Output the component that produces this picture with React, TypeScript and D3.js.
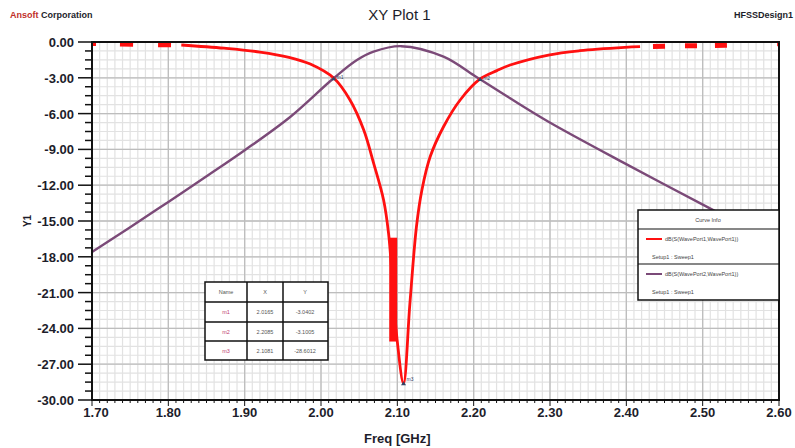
import React from "react";
import * as d3 from "d3";

// ---- data ----
const xTicks = [1.7, 1.8, 1.9, 2.0, 2.1, 2.2, 2.3, 2.4, 2.5, 2.6];
const yTicks = [0, -3, -6, -9, -12, -15, -18, -21, -24, -27, -30];

// S11 (red) continuous part
const s11Freq = [1.817, 1.873, 1.92, 1.958, 1.986, 2.017, 2.038, 2.056, 2.069, 2.082, 2.0885, 2.0998, 2.1081, 2.1164, 2.125, 2.1322, 2.1431, 2.1605, 2.1823, 2.2085, 2.2304, 2.2478, 2.298, 2.339, 2.398, 2.418];
const s11dB = [-0.25, -0.52, -0.84, -1.28, -1.85, -3.04, -4.86, -7.38, -10.17, -13.24, -16.04, -25.0, -28.6, -21.96, -15.5, -12.4, -9.6, -7.1, -4.86, -3.1, -2.4, -1.93, -1.09, -0.73, -0.45, -0.39];
// S11 near-0 tails drawn in the chunky dashed style
const s11LeftFreq = [1.7, 1.76, 1.817];
const s11LeftdB = [-0.12, -0.2, -0.25];
const s11RightFreq = [2.418, 2.47, 2.53, 2.6];
const s11RightdB = [-0.39, -0.33, -0.27, -0.15];
// dense ringing band on the S11 left flank
const ringFreq = [2.0894, 2.0998];
const ringdB = [-16.4, -25.1];

// S21 (purple)
const s21Freq = [1.7, 1.748, 1.8, 1.8525, 1.9005, 1.96, 2.0165, 2.0471, 2.0689, 2.105, 2.1605, 2.1997, 2.2085, 2.2478, 2.298, 2.398, 2.5095, 2.6];
const s21dB = [-17.6, -15.6, -13.4, -11.15, -9.05, -6.26, -3.04, -1.51, -0.81, -0.35, -1.23, -2.77, -3.13, -4.72, -6.68, -10.17, -13.94, -17.0];

// markers
const markerNames = ["m1", "m2", "m3"];
const markerFreq = [2.0165, 2.2085, 2.1081];
const markerdB = [-3.04, -3.1, -28.6];
const markerX = ["2.0165", "2.2085", "2.1081"];
const markerY = ["-3.0402", "-3.1005", "-28.6012"];

const legendNames = ["dB(S(WavePort1,WavePort1))", "dB(S(WavePort2,WavePort1))"];
const legendSub = ["Setup1 : Sweep1", "Setup1 : Sweep1"];

const RED = "#ff1010";
const PURPLE = "#7b4a78";
const TXT = "#1d1d2b";
const FONT = "'Liberation Sans', Arial, sans-serif";

export default function App() {
  const W = 795, H = 448;
  const L = 92, R = 779, T = 42, B = 400;
  const x = d3.scaleLinear().domain([1.7, 2.6]).range([L, R]);
  const y = d3.scaleLinear().domain([0, -30]).range([T, B]);

  const line = d3.line<number>().curve(d3.curveCatmullRom.alpha(0.5));

  const mk = (fs: number[], vs: number[]) =>
    line.x((_, i) => x(fs[i])).y((_, i) => y(vs[i]))(fs.map((_, i) => i)) || "";

  const minorX = d3.range(0, 91).map((i) => 1.7 + i * 0.01);
  const minorY = d3.range(0, 41).map((i) => -i * 0.75);

  return (
    <svg
      width={W}
      height={H}
      style={{ position: "absolute", left: 0, top: 0, background: "#fff" }}
      fontFamily={FONT}
    >
      <rect x={0} y={0} width={W} height={H} fill="#fff" />
      {/* header texts */}
      <text x={10} y={18} fontSize={9} fontWeight="bold" fill={TXT}>
        <tspan fill="#c0302a">Ansoft</tspan> Corporation
      </text>
      <text x={W / 2 + 2} y={20} fontSize={15} textAnchor="middle" fill={TXT}>
        XY Plot 1
      </text>
      <text x={793} y={18} fontSize={9} fontWeight="bold" textAnchor="end" fill={TXT}>
        HFSSDesign1
      </text>

      {/* grid */}
      <g>
        {minorX.map((f, i) => (
          <line key={"vx" + i} x1={x(f)} x2={x(f)} y1={T} y2={B} stroke="#e2e2e2" strokeWidth={1.2} />
        ))}
        {minorY.map((v, i) => (
          <line key={"hy" + i} x1={L} x2={R} y1={y(v)} y2={y(v)} stroke="#e2e2e2" strokeWidth={1.2} />
        ))}
        {xTicks.map((f, i) => (
          <line key={"VX" + i} x1={x(f)} x2={x(f)} y1={T} y2={B} stroke="#bdbdbd" strokeWidth={1.3} />
        ))}
        {yTicks.map((v, i) => (
          <line key={"HY" + i} x1={L} x2={R} y1={y(v)} y2={y(v)} stroke="#bdbdbd" strokeWidth={1.3} />
        ))}
      </g>

      {/* curves */}
      <path d={mk(s21Freq, s21dB)} fill="none" stroke={PURPLE} strokeWidth={2.4} />
      <path d={mk(s11Freq, s11dB)} fill="none" stroke={RED} strokeWidth={2.8} strokeLinejoin="round" />
      <path
        d={mk(s11LeftFreq, s11LeftdB)}
        fill="none"
        stroke={RED}
        strokeWidth={5}
        strokeDasharray="4 24 13 25 13 40"
      />
      <path
        d={mk(s11RightFreq, s11RightdB)}
        fill="none"
        stroke={RED}
        strokeWidth={5}
        strokeDasharray="0 13 12 20 12 18 12 50 8 100"
      />
      <rect
        x={x(ringFreq[0])}
        y={y(ringdB[0])}
        width={x(ringFreq[1]) - x(ringFreq[0])}
        height={y(ringdB[1]) - y(ringdB[0])}
        fill={RED}
      />

      {/* markers */}
      {markerFreq.map((f, i) => (
        <g key={"mk" + i}>
          <path d={`M${x(f)},${y(markerdB[i]) - 2} l2.5,4 h-5 z`} fill="#334466" />
          <text x={x(f) + 3} y={y(markerdB[i]) + (i === 2 ? -2 : 1)} fontSize={5} fill="#334466">
            {markerNames[i]}
          </text>
        </g>
      ))}

      {/* frame */}
      <rect x={L} y={T} width={R - L} height={B - T} fill="none" stroke="#111" strokeWidth={2} />
      <rect x={L + 1} y={T + 1} width={3} height={3} fill={RED} />

      {/* y axis ticks */}
      {minorY.map((v, i) => (
        <line key={"ty" + i} x1={L - (i % 4 === 0 ? 14 : 7)} x2={L} y1={y(v)} y2={y(v)} stroke="#111" strokeWidth={1.5} />
      ))}
      {yTicks.map((v, i) => (
        <text key={"yl" + i} x={74} y={y(v) + 5} fontSize={13} fontWeight="bold" textAnchor="end" fill={TXT}>
          {v.toFixed(2)}
        </text>
      ))}
      <text
        transform={`translate(31,${y(-15)}) rotate(-90)`}
        fontSize={10}
        fontWeight="bold"
        textAnchor="middle"
        fill={TXT}
      >
        Y1
      </text>

      {/* x axis ticks */}
      {minorX.map((f, i) => (
        <line key={"tx" + i} x1={x(f)} x2={x(f)} y1={B} y2={B + (i % 10 === 0 ? 6 : 3)} stroke="#111" strokeWidth={1} />
      ))}
      {xTicks.map((f, i) => (
        <text key={"xl" + i} x={x(f) + (i === 0 ? 4 : 0)} y={417} fontSize={13} fontWeight="bold" textAnchor="middle" fill={TXT}>
          {f.toFixed(2)}
        </text>
      ))}
      <text x={x(2.1)} y={443} fontSize={13} fontWeight="bold" textAnchor="middle" fill={TXT}>
        Freq [GHz]
      </text>

      {/* marker table */}
      <g fontSize={5.5} textAnchor="middle" fill="#555">
        <rect x={205} y={282} width={123} height={78} fill="#fff" stroke="#111" strokeWidth={1.5} />
        {[302, 322, 341].map((yy, i) => (
          <line key={"tr" + i} x1={205} x2={328} y1={yy} y2={yy} stroke="#111" strokeWidth={1.5} />
        ))}
        {[247, 283].map((xx, i) => (
          <line key={"tc" + i} x1={xx} x2={xx} y1={282} y2={360} stroke="#111" strokeWidth={1.5} />
        ))}
        <text x={226} y={294}>Name</text>
        <text x={265} y={294}>X</text>
        <text x={305} y={294}>Y</text>
        {markerNames.map((n, i) => (
          <g key={"row" + i}>
            <text x={226} y={314 + i * 19.5} fill="#c04070">{n}</text>
            <text x={265} y={314 + i * 19.5}>{markerX[i]}</text>
            <text x={305} y={314 + i * 19.5}>{markerY[i]}</text>
          </g>
        ))}
      </g>

      {/* legend */}
      <g fontSize={5.5} fill="#444">
        <rect x={638} y={210} width={141} height={90} fill="#fff" stroke="#111" strokeWidth={1.5} />
        <line x1={638} x2={779} y1={229} y2={229} stroke="#111" strokeWidth={1.2} />
        <line x1={638} x2={779} y1={264} y2={264} stroke="#111" strokeWidth={1.2} />
        <text x={708} y={222} textAnchor="middle">Curve Info</text>
        {legendNames.map((n, i) => (
          <g key={"lg" + i}>
            <line
              x1={646}
              x2={662}
              y1={239 + i * 35}
              y2={239 + i * 35}
              stroke={i === 0 ? RED : PURPLE}
              strokeWidth={2}
            />
            <text x={665} y={241 + i * 35}>{n}</text>
            <text x={652} y={259 + i * 35}>{legendSub[i]}</text>
          </g>
        ))}
      </g>
    </svg>
  );
}
